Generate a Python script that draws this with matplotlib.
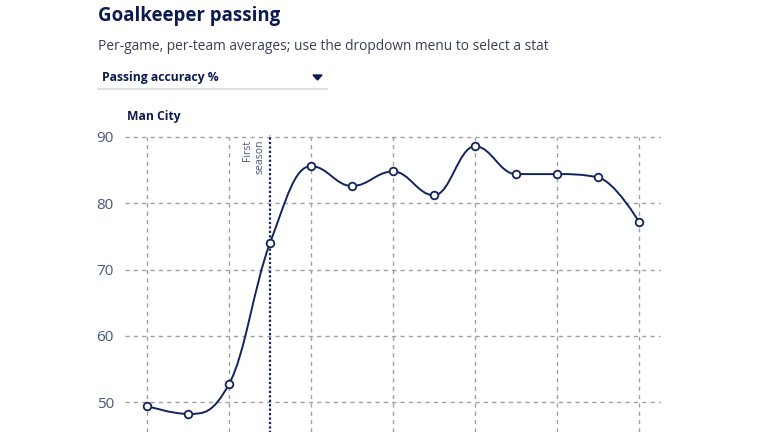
import numpy as np
import matplotlib
matplotlib.use("Agg")
from matplotlib import pyplot as plt
from matplotlib.path import Path
from matplotlib.patches import PathPatch, Polygon

# season index 0..12, passing accuracy % per game
seasons = list(range(13))
accuracy = [49.4, 48.2, 52.7, 74.0, 85.6, 82.6, 84.8, 81.2, 88.6, 84.4, 84.4, 83.9, 77.2]
first_season = 3
yticks = [50, 60, 70, 80, 90]

navy = '#13235e'
title_col = '#0c1a52'
tick_col = '#4a587f'
grid_col = '#a0a0a0'

plt.rcParams['font.family'] = ['Open Sans', 'DejaVu Sans']


def spline_path(xs, ys, smoothing=1.5):
    # highcharts style spline -> cubic bezier segments
    n = len(xs)
    verts = [(xs[0], ys[0])]
    codes = [Path.MOVETO]
    ctrl = []
    for i in range(n):
        if i == 0 or i == n - 1:
            ctrl.append(((xs[i], ys[i]), (xs[i], ys[i])))
            continue
        d = smoothing + 1
        lx = (smoothing * xs[i] + xs[i - 1]) / d
        ly = (smoothing * ys[i] + ys[i - 1]) / d
        rx = (smoothing * xs[i] + xs[i + 1]) / d
        ry = (smoothing * ys[i] + ys[i + 1]) / d
        if rx != lx:
            corr = (ry - ly) * (rx - xs[i]) / (rx - lx) + ys[i] - ry
            ly += corr
            ry += corr
        if ly > ys[i - 1] and ly > ys[i]:
            ly = max(ys[i - 1], ys[i]); ry = 2 * ys[i] - ly
        elif ly < ys[i - 1] and ly < ys[i]:
            ly = min(ys[i - 1], ys[i]); ry = 2 * ys[i] - ly
        if ry > ys[i + 1] and ry > ys[i]:
            ry = max(ys[i + 1], ys[i]); ly = 2 * ys[i] - ry
        elif ry < ys[i + 1] and ry < ys[i]:
            ry = min(ys[i + 1], ys[i]); ly = 2 * ys[i] - ry
        ctrl.append(((lx, ly), (rx, ry)))
    for i in range(1, n):
        verts += [ctrl[i - 1][1], ctrl[i][0], (xs[i], ys[i])]
        codes += [Path.CURVE4] * 3
    return Path(verts, codes)


fig = plt.figure(figsize=(7.68, 4.32), dpi=100)
W, H = 768, 432
# axes: 125..660 px wide, 137..432 px tall
ax = fig.add_axes([125 / W, 0, (660 - 125) / W, (432 - 137) / H])
ax.set_xlim(-22 / 41, 12 + 21 / 41)
ax.set_ylim(90 - 295 / 6.625, 90)

for y in yticks:
    ax.axhline(y, color=grid_col, lw=1, ls=(0, (3, 3)), zorder=1, clip_on=False)
for x in seasons[::2]:
    ax.axvline(x, color=grid_col, lw=1, ls=(0, (3, 3)), zorder=1)

ax.plot([first_season, first_season], [45, 90.3], color=navy, lw=1.6,
        ls=(0, (1, 1)), zorder=2, clip_on=False)
ax.text(first_season - 0.12, 89.6, 'First\nseason', rotation=90, ha='right', va='top',
        fontsize=7.5, color=tick_col, linespacing=1.1)

ax.add_patch(PathPatch(spline_path(seasons, accuracy), fill=False, edgecolor=navy,
                       lw=1.4, zorder=3))
ax.plot(seasons, accuracy, ls='none', marker='o', ms=5.5, mfc='white', mec=navy,
        mew=1.3, zorder=4, clip_on=False)

ax.set_yticks(yticks)
ax.set_xticks([])
ax.tick_params(axis='y', length=0, pad=8, labelsize=11, labelcolor=tick_col)
for s in ax.spines.values():
    s.set_visible(False)

fig.text(98 / W, 1 - 16 / H, 'Goalkeeper passing', fontsize=13.4, fontweight='bold',
         color=title_col, va='center')
fig.text(98 / W, 1 - 46 / H, 'Per-game, per-team averages; use the dropdown menu to select a stat',
         fontsize=9.9, color='#3a3f55', va='center')
fig.text(102 / W, 1 - 77 / H, 'Passing accuracy %', fontsize=8.7, fontweight='bold',
         color=title_col, va='center')
fig.add_artist(plt.Line2D([98 / W, 327 / W], [1 - 89 / H, 1 - 89 / H], color='#d8dbe3', lw=1.2))
fig.add_artist(Polygon([[313 / W, 1 - 75 / H], [322 / W, 1 - 75 / H], [317.5 / W, 1 - 80 / H]],
                       closed=True, color=title_col))
fig.text(127 / W, 1 - 116 / H, 'Man City', fontsize=8.7, fontweight='bold',
         color=title_col, va='center')

plt.savefig('out.png', dpi=100)
